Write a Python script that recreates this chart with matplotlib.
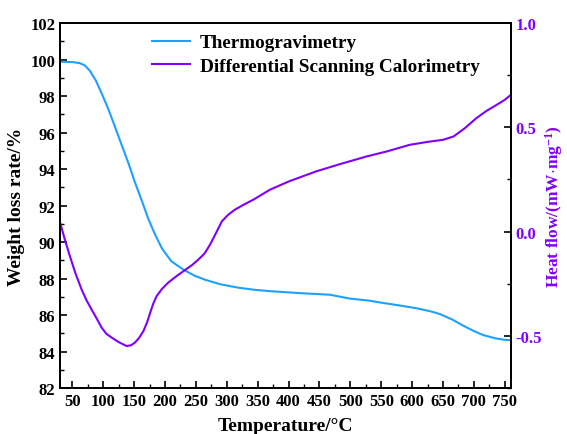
import matplotlib
matplotlib.use("Agg")
import matplotlib.pyplot as plt
from matplotlib.ticker import MultipleLocator

plt.rcParams['font.family'] = ['Liberation Serif', 'DejaVu Serif']
plt.rcParams['font.weight'] = 'bold'
plt.rcParams['mathtext.fontset'] = 'custom'
plt.rcParams['mathtext.rm'] = 'Liberation Serif:bold'
plt.rcParams['mathtext.bf'] = 'Liberation Serif:bold'
plt.rcParams['mathtext.it'] = 'Liberation Serif:bold'

# Thermogravimetry (weight loss rate, %)
tg_temp = [30, 50, 62, 70, 78, 88, 98, 108, 118, 130, 141, 151, 162, 173, 184, 195, 210, 230, 248, 265,
           290, 318, 345, 372, 400, 423, 445, 467, 499, 530, 553, 580, 607, 630, 645, 665, 683, 700,
           715, 735, 750, 760]
tg_val = [99.88, 99.86, 99.8, 99.68, 99.4, 98.85, 98.1, 97.3, 96.4, 95.3, 94.3, 93.3, 92.3, 91.26,
          90.4, 89.65, 88.95, 88.48, 88.15, 87.93, 87.68, 87.5, 87.38, 87.3, 87.24, 87.19, 87.15,
          87.11, 86.9, 86.79, 86.66, 86.52, 86.37, 86.2, 86.05, 85.75, 85.41, 85.12, 84.9, 84.72,
          84.64, 84.62]

# Differential scanning calorimetry (heat flow, mW/mg)
dsc_temp = [30, 38, 46, 55, 65, 73, 81, 90, 97.5, 105, 114, 125, 138, 145, 151, 158, 165, 171,
            176, 181, 186.5, 195, 205, 218, 232, 244, 254, 264, 273, 282, 292, 302, 313, 328, 343,
            370, 400, 445, 485, 526, 560, 596, 625, 650, 667, 685, 704, 720, 737, 750, 760]
dsc_val = [0.045, -0.04, -0.118, -0.2, -0.278, -0.33, -0.373, -0.42, -0.461, -0.49, -0.509, -0.53,
           -0.549, -0.545, -0.533, -0.51, -0.477, -0.435, -0.389, -0.345, -0.309, -0.275, -0.245,
           -0.215, -0.185, -0.16, -0.134, -0.105, -0.062, -0.01, 0.049, 0.08, 0.105, 0.13, 0.153,
           0.201, 0.24, 0.289, 0.325, 0.36, 0.385, 0.416, 0.43, 0.44, 0.456, 0.495, 0.544, 0.578,
           0.608, 0.632, 0.656]

x_ticks = list(range(50, 751, 50))
left_ticks = list(range(82, 103, 2))
right_ticks = [-0.5, 0.0, 0.5, 1.0]
right_tick_labels = ['-0.5', '0.0', '0.5', '1.0']

tg_color = '#1EA0FF'
dsc_color = '#8000FF'

fig = plt.figure(figsize=(5.67, 4.35), dpi=100)
ax = fig.add_axes([60/567, 1-389/435, 451/567, 365/435])
ax2 = ax.twinx()

l1, = ax.plot(tg_temp, tg_val, color=tg_color, lw=1.5, label='Thermogravimetry')
l2, = ax2.plot(dsc_temp, dsc_val, color=dsc_color, lw=1.5, label='Differential Scanning Calorimetry')

ax.set_xlim(30, 760)
ax.set_ylim(82, 102)
ax2.set_ylim(-0.75, 1.0)

ax.set_xticks(x_ticks)
ax.set_yticks(left_ticks)
ax2.set_yticks(right_ticks)
ax2.set_yticklabels(right_tick_labels)
ax.xaxis.set_minor_locator(MultipleLocator(25))
ax.yaxis.set_minor_locator(MultipleLocator(1))
ax2.yaxis.set_minor_locator(MultipleLocator(0.25))

ax.tick_params(axis='both', which='major', direction='in', length=5, width=1.2, labelsize=12)
ax.tick_params(axis='both', which='minor', direction='in', length=3, width=1.0)
ax.tick_params(axis='x', which='both', top=False)
ax2.tick_params(axis='y', which='major', direction='in', length=5, width=1.2, labelsize=12,
                labelcolor=dsc_color, pad=3)
ax2.tick_params(axis='y', which='minor', direction='in', length=3, width=1.0)

for a in (ax, ax2):
    for s in a.spines.values():
        s.set_linewidth(1.3)

ax.set_xlabel('Temperature/°C', fontsize=14, fontweight='bold', labelpad=6)
ax.set_ylabel('Weight loss rate/%', fontsize=14, fontweight='bold', labelpad=4)
ax2.set_ylabel(r'Heat flow/(mW$\cdot$mg$^{-1}$)', fontsize=12.5, fontweight='bold',
               color=dsc_color, labelpad=1)

leg = ax.legend(handles=[l1, l2], loc='upper left', bbox_to_anchor=((152-60)/451, (389-35)/365),
                frameon=False, fontsize=13.8, handlelength=2.0, labelspacing=0.3,
                handletextpad=0.5, borderaxespad=0, borderpad=0)

fig.savefig('out.png', dpi=100)
